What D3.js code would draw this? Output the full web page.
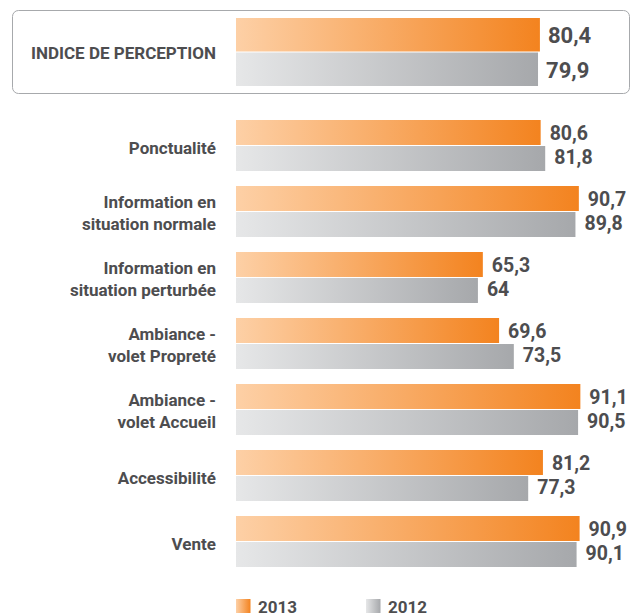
<!DOCTYPE html>
<html>
<head>
<meta charset="utf-8">
<script src="https://cdn.jsdelivr.net/npm/d3@7"></script>
<style>
  body { margin: 0; background: #fff; }
  svg text { font-family: Roboto, "DejaVu Sans Condensed", sans-serif; font-weight: bold; fill: #4d4d4f; }
</style>
</head>
<body>
<svg id="chart"></svg>
<script>
// Chart data
var indexLabel = "INDICE DE PERCEPTION";
var indexValues = [80.4, 79.9];           // 2013, 2012
var categories = [
    "Ponctualité",
    "Information en|situation normale",
    "Information en|situation perturbée",
    "Ambiance -|volet Propreté",
    "Ambiance -|volet Accueil",
    "Accessibilité",
    "Vente"
];
var values2013 = [80.6, 90.7, 65.3, 69.6, 91.1, 81.2, 90.9];
var values2012 = [81.8, 89.8, 64, 73.5, 90.5, 77.3, 90.1];
var years = ["2013", "2012"];

var width = 636, height = 615;

var svg = d3.select("#chart")
    .attr("width", width)
    .attr("height", height);

// Gradients for the bars (light on the left, dark on the right)
var defs = svg.append("defs");
var gradients = { "2013": ["#fdd0a6", "#f3831f"], "2012": ["#e6e7e8", "#a6a8ab"] };
years.forEach(function (yr) {
    var g = defs.append("linearGradient")
        .attr("id", "grad" + yr)
        .attr("x1", "0").attr("x2", "1").attr("y1", "0").attr("y2", "0");
    g.append("stop").attr("offset", "0%").attr("stop-color", gradients[yr][0]);
    g.append("stop").attr("offset", "100%").attr("stop-color", gradients[yr][1]);
});

var fmt = function (v) { return String(v).replace(".", ","); };

// x scale shared by all bars
var x = d3.scaleLinear().domain([0, 100]).range([236, 614]);

// --- Index box at the top ---
svg.append("rect")
    .attr("x", 12.5).attr("y", 10.5)
    .attr("width", 617).attr("height", 83)
    .attr("rx", 6)
    .attr("fill", "none")
    .attr("stroke", "#a7a9ac")
    .attr("stroke-width", 1);

var yIdx = d3.scaleBand().domain(years).range([18, 86]).paddingInner(2 / 68);

svg.append("text")
    .attr("x", 216)
    .attr("y", 53)
    .attr("text-anchor", "end")
    .attr("dominant-baseline", "central")
    .style("font-size", "17px")
    .text(indexLabel);

svg.selectAll(".idx-bar")
    .data(indexValues)
    .enter().append("rect")
    .attr("class", "idx-bar")
    .attr("x", x(0))
    .attr("y", (d, i) => yIdx(years[i]))
    .attr("width", d => x(d) - x(0))
    .attr("height", yIdx.bandwidth())
    .attr("fill", (d, i) => "url(#grad" + years[i] + ")");

svg.selectAll(".idx-val")
    .data(indexValues)
    .enter().append("text")
    .attr("class", "idx-val")
    .attr("x", d => x(d) + 8)
    .attr("y", (d, i) => yIdx(years[i]) + yIdx.bandwidth() / 2 + 1)
    .attr("dominant-baseline", "central")
    .style("font-size", "22px")
    .text(fmt);

// --- Category groups ---
var y = d3.scaleBand()
    .domain(categories)
    .range([120, 567])
    .paddingInner(15 / 66)
    .paddingOuter(0);

var yInner = d3.scaleBand()
    .domain(years)
    .range([0, y.bandwidth()])
    .paddingInner(2 / 51);

var rows = categories.map(function (c, i) {
    return { cat: c, vals: [values2013[i], values2012[i]] };
});

var group = svg.selectAll(".group")
    .data(rows)
    .enter().append("g")
    .attr("class", "group")
    .attr("transform", d => "translate(0," + y(d.cat) + ")");

// category labels (one or two lines)
group.append("text")
    .attr("x", 216)
    .attr("text-anchor", "end")
    .style("font-size", "17px")
    .each(function (d) {
        var lines = d.cat.split("|");
        var mid = y.bandwidth() / 2 + (lines.length > 1 ? 1 : 2);
        var t = d3.select(this);
        lines.forEach(function (line, k) {
            t.append("tspan")
                .attr("x", 216)
                .attr("y", mid + (k - (lines.length - 1) / 2) * 22)
                .attr("dominant-baseline", "central")
                .text(line);
        });
    });

group.selectAll(".bar")
    .data(d => d.vals)
    .enter().append("rect")
    .attr("class", "bar")
    .attr("x", x(0))
    .attr("y", (d, i) => yInner(years[i]))
    .attr("width", d => x(d) - x(0))
    .attr("height", yInner.bandwidth())
    .attr("fill", (d, i) => "url(#grad" + years[i] + ")");

group.selectAll(".val")
    .data(d => d.vals)
    .enter().append("text")
    .attr("class", "val")
    .attr("x", d => x(d) + 9)
    .attr("y", (d, i) => yInner(years[i]) + yInner.bandwidth() / 2 + (i === 0 ? 1 : -1))
    .attr("dominant-baseline", "central")
    .style("font-size", "19.5px")
    .text(fmt);

// --- Legend ---
var legendX = [236, 366];
var legend = svg.selectAll(".legend")
    .data(years)
    .enter().append("g")
    .attr("class", "legend")
    .attr("transform", (d, i) => "translate(" + legendX[i] + ",599)");

legend.append("rect")
    .attr("width", 14.5).attr("height", 14)
    .attr("fill", d => "url(#grad" + d + ")");

legend.append("text")
    .attr("x", 22)
    .attr("y", 7.5)
    .attr("dominant-baseline", "central")
    .style("font-size", "17px")
    .text(d => d);
</script>
</body>
</html>
